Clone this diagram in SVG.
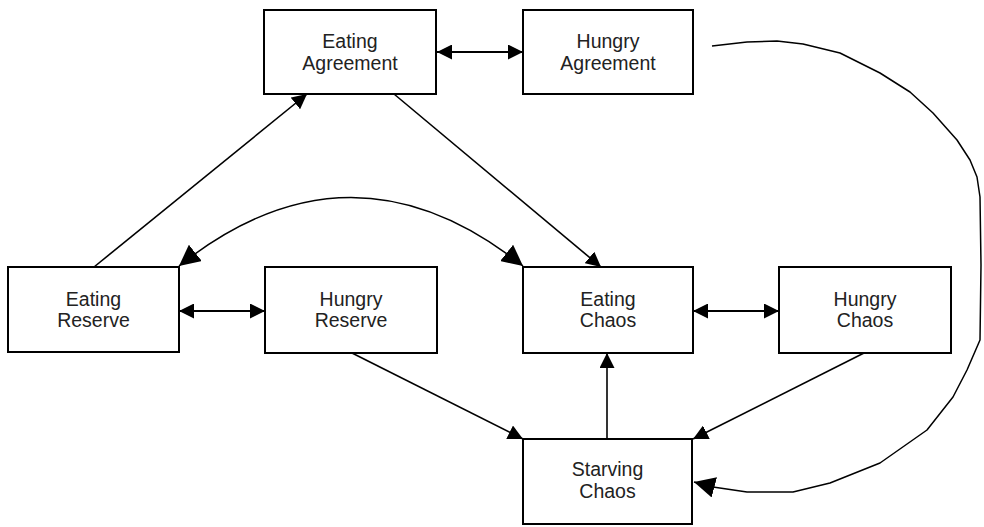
<svg xmlns="http://www.w3.org/2000/svg" width="984" height="527" viewBox="0 0 984 527">
  <style>
    .box { fill: #ffffff; stroke: #000000; stroke-width: 2; }
    .label { font-family: "Liberation Sans", Arial, sans-serif; font-size: 19.5px; fill: #222222; text-anchor: middle; }
    .link { fill: none; stroke: #000000; stroke-width: 1.6; }
    .pair { fill: none; stroke: #000000; stroke-width: 2; marker-start: url(#tip); marker-end: url(#tip); }
    .one { marker-end: url(#tip); }
    .arc { fill: none; stroke: #000000; stroke-width: 1.5; stroke-linejoin: round; }
  </style>
  <defs>
    <marker id="tip" viewBox="0 0 15 15" refX="15" refY="7.5" markerWidth="15" markerHeight="15" markerUnits="userSpaceOnUse" orient="auto-start-reverse">
      <path d="M0,0 L15,7.5 L0,15 z" fill="#000000"/>
    </marker>
    <marker id="bigtip" viewBox="0 0 21 21" refX="21" refY="10.5" markerWidth="21" markerHeight="21" markerUnits="userSpaceOnUse" orient="auto-start-reverse">
      <path d="M0,0 L21,10.5 L0,21 z" fill="#000000"/>
    </marker>
  </defs>

  <g id="connectors">
    <!-- horizontal two-way links -->
    <line class="pair" x1="437" y1="52" x2="523" y2="52"/>
    <line class="pair" x1="179" y1="311" x2="265" y2="311"/>
    <line class="pair" x1="693" y1="311" x2="779" y2="311"/>
    <!-- one-way links -->
    <line class="link one" x1="94" y1="267" x2="307" y2="94"/>
    <line class="link one" x1="394" y1="94" x2="601" y2="267"/>
    <line class="link one" x1="352" y1="353" x2="523" y2="439"/>
    <line class="link one" x1="864" y1="353" x2="693" y2="439"/>
    <line class="link one" x1="607" y1="438" x2="607" y2="353"/>
    <!-- arc between Eating Reserve and Eating Chaos -->
    <path class="arc" d="M179,266 Q351,129 523,266" marker-start="url(#bigtip)" marker-end="url(#bigtip)"/>
    <!-- long arc from Hungry Agreement to Starving Chaos -->
    <path class="arc" d="M712,46 L747,42 L777,41 L803,44 L840,53 L880,73 L910,92 L933,113 L957,140 L970,160 L977,177 L980,197 L981,265 L980,340 L967,370 L953,397 L927,430 L880,463 L830,483 L793,492 L747,492 L713,487 L694,482" marker-end="url(#bigtip)"/>
  </g>

  <g id="eating-agreement">
    <rect class="box" x="264" y="10" width="172" height="84"/>
    <text class="label" x="350" y="48">Eating</text>
    <text class="label" x="350" y="70">Agreement</text>
  </g>
  <g id="hungry-agreement">
    <rect class="box" x="523" y="10" width="170" height="84"/>
    <text class="label" x="608" y="48">Hungry</text>
    <text class="label" x="608" y="70">Agreement</text>
  </g>
  <g id="eating-reserve">
    <rect class="box" x="8" y="267" width="171" height="85"/>
    <text class="label" x="93.5" y="306">Eating</text>
    <text class="label" x="93.5" y="327">Reserve</text>
  </g>
  <g id="hungry-reserve">
    <rect class="box" x="265" y="267" width="172" height="86"/>
    <text class="label" x="351" y="306">Hungry</text>
    <text class="label" x="351" y="327">Reserve</text>
  </g>
  <g id="eating-chaos">
    <rect class="box" x="523" y="267" width="170" height="86"/>
    <text class="label" x="608" y="306">Eating</text>
    <text class="label" x="608" y="327">Chaos</text>
  </g>
  <g id="hungry-chaos">
    <rect class="box" x="779" y="267" width="172" height="86"/>
    <text class="label" x="865" y="306">Hungry</text>
    <text class="label" x="865" y="327">Chaos</text>
  </g>
  <g id="starving-chaos">
    <rect class="box" x="523" y="439" width="169" height="85"/>
    <text class="label" x="607.5" y="476">Starving</text>
    <text class="label" x="607.5" y="498">Chaos</text>
  </g>
</svg>
